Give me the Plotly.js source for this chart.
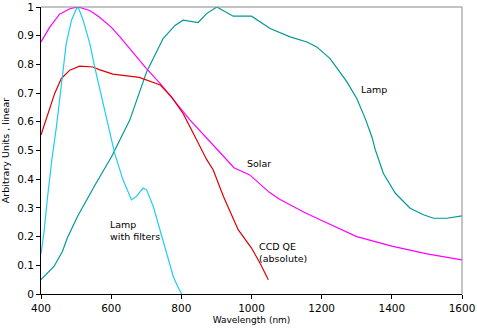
<!DOCTYPE html>
<html><head><meta charset="utf-8">
<script src="https://cdn.plot.ly/plotly-3.0.1.min.js"></script>
<style>html,body{margin:0;padding:0;background:#fff}#chart{width:477px;height:329px}</style>
</head><body><div id="chart"></div>
<script>
const solarX = [400,425,453,482,506,539,566,600,625,660,700,740,825,905,950,995,1050,1080,1150,1200,1300,1400,1500,1600];
const solarY = [0.878,0.93,0.975,0.994,1.0,0.988,0.965,0.93,0.896,0.845,0.786,0.733,0.606,0.50,0.44,0.415,0.355,0.33,0.285,0.256,0.2,0.167,0.14,0.119];

const ccdX = [400,425,439,458,482,510,548,566,605,680,710,740,772,805,834,858,872,891,920,962,1000,1024,1048];
const ccdY = [0.554,0.652,0.699,0.751,0.78,0.794,0.791,0.782,0.766,0.755,0.742,0.728,0.687,0.629,0.56,0.502,0.469,0.432,0.34,0.224,0.16,0.108,0.05];

const filtX = [400,409,418,431,444,458,472,487,501,506,520,539,553,610,634,658,672,691,701,720,739,758,777,790,801];
const filtY = [0.14,0.22,0.33,0.469,0.583,0.733,0.873,0.954,0.994,1.0,0.954,0.873,0.791,0.49,0.397,0.328,0.34,0.369,0.363,0.305,0.224,0.143,0.061,0.025,0];

const lampX = [400,437,461,475,504,532,554,601,653,701,737,748,782,805,848,872,901,948,1000,1053,1110,1158,1186,1224,1272,1300,1324,1343,1353,1376,1410,1452,1490,1519,1557,1600];
const lampY = [0.05,0.096,0.148,0.195,0.27,0.334,0.38,0.478,0.606,0.774,0.867,0.89,0.936,0.954,0.946,0.977,1.0,0.968,0.968,0.925,0.896,0.878,0.861,0.82,0.739,0.681,0.612,0.548,0.502,0.42,0.351,0.299,0.276,0.264,0.264,0.272];

const labels = [
  {text:'Lamp', x:1305, y:0.713},
  {text:'Solar', x:982, y:0.455},
  {text:'Lamp<br>with filters', x:592, y:0.22},
  {text:'CCD QE<br>(absolute)', x:1016, y:0.145}
];

const font = {family:'DejaVu Sans, Verdana, sans-serif', color:'#000'};
const traces = [
  {x:lampX, y:lampY, mode:'lines', line:{color:'#009999', width:1.2}},
  {x:solarX, y:solarY, mode:'lines', line:{color:'#FF00FF', width:1.2}},
  {x:ccdX, y:ccdY, mode:'lines', line:{color:'#DD0000', width:1.2}},
  {x:filtX, y:filtY, mode:'lines', line:{color:'#22CCEE', width:1.2}}
];
const layout = {
  width:477, height:329,
  margin:{l:41, r:15, t:7, b:35},
  showlegend:false,
  paper_bgcolor:'#fff', plot_bgcolor:'#fff',
  font:Object.assign({size:10}, font),
  xaxis:{range:[400,1600], dtick:200, tick0:400, showgrid:false, zeroline:false,
    showline:true, linecolor:'#000', linewidth:1, ticks:'outside', ticklen:4, tickcolor:'#000',
    tickfont:Object.assign({size:10.5}, font),
    title:{text:'Wavelength (nm)', font:Object.assign({size:9}, font), standoff:4}},
  yaxis:{range:[0,1], dtick:0.1, tick0:0, showgrid:false, zeroline:false,
    showline:true, linecolor:'#000', linewidth:1, ticks:'outside', ticklen:4, tickcolor:'#000',
    tickfont:Object.assign({size:10.5}, font),
    title:{text:'Arbitrary Units , linear', font:Object.assign({size:9.5}, font), standoff:6}},
  shapes:[
    {type:'line', xref:'paper', yref:'paper', x0:0, x1:1, y0:1, y1:1, line:{color:'#888', width:1}},
    {type:'line', xref:'paper', yref:'paper', x0:1, x1:1, y0:0, y1:1, line:{color:'#888', width:1}}
  ],
  annotations: labels.map(l => ({text:l.text, x:l.x, y:l.y, xref:'x', yref:'y', showarrow:false,
    xanchor:'left', yanchor:'middle', align:'left', font:Object.assign({size:9.5}, font)}))
};
Plotly.newPlot('chart', traces, layout, {staticPlot:true, displayModeBar:false});
</script></body></html>
